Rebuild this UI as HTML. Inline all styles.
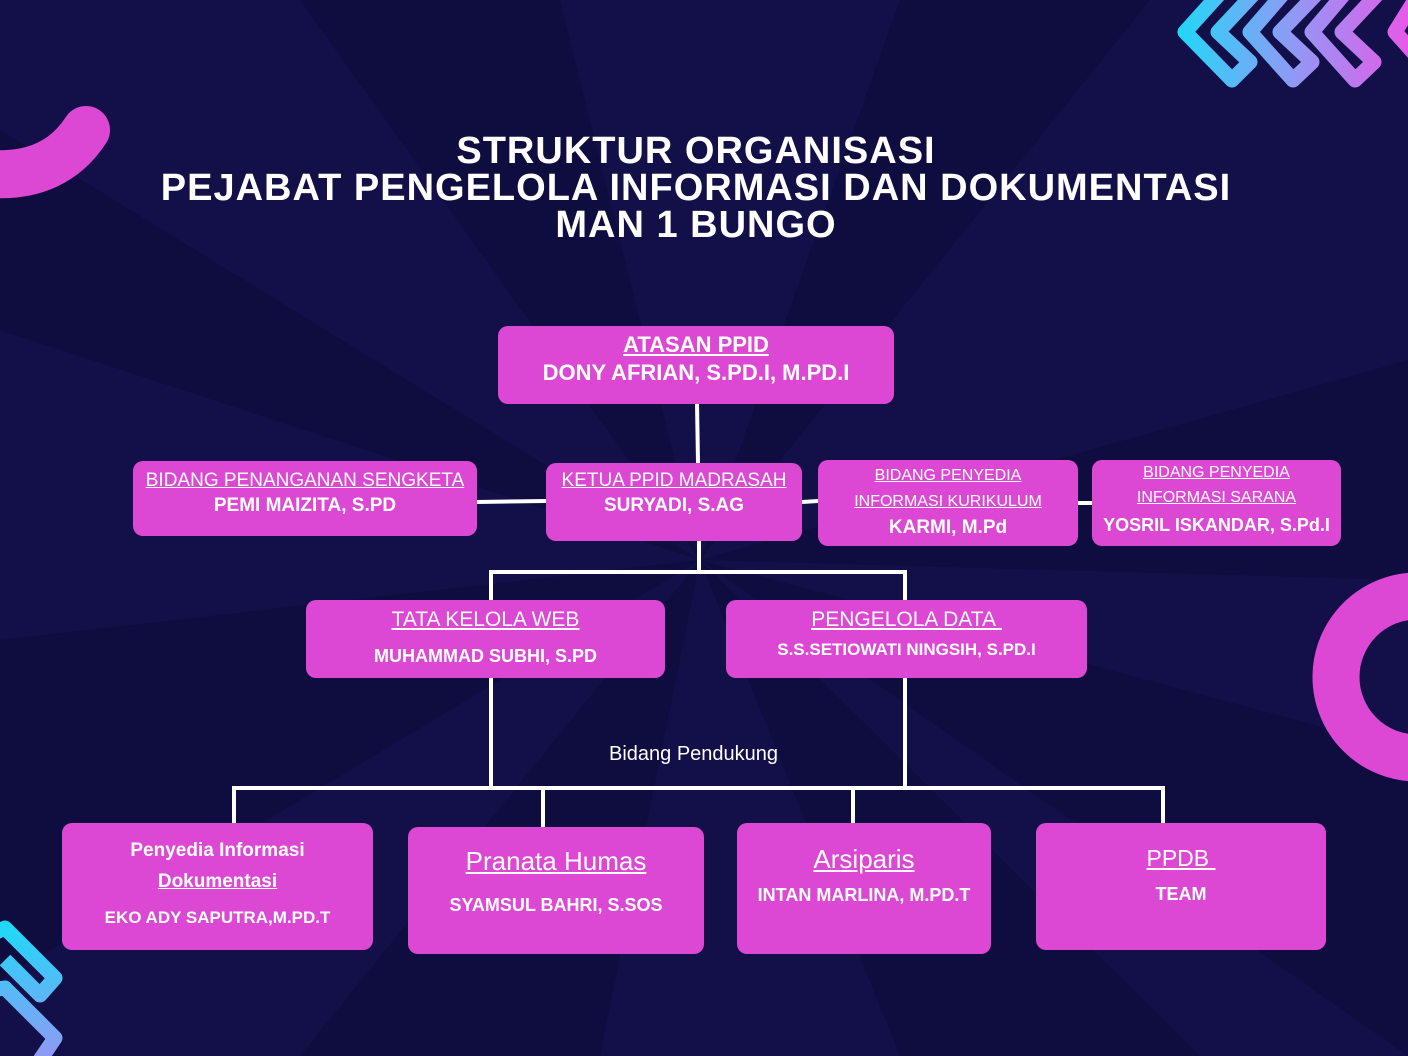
<!DOCTYPE html>
<html><head><meta charset="utf-8"><style>
html,body{margin:0;padding:0}
body{width:1408px;height:1056px;position:relative;overflow:hidden;background:#130f49;font-family:"Liberation Sans",sans-serif;color:#fff}
.b{position:absolute;background:#dc48d3;border-radius:10px;text-align:center;color:#fff}
.u{text-decoration:underline;font-weight:normal}
.n{font-weight:bold}
.t{position:absolute;left:0;width:1392px;text-align:center;font-weight:bold;font-size:38px;line-height:37px;top:133px;letter-spacing:1px}
svg{position:absolute;left:0;top:0}
</style></head><body>
<svg width="1408" height="1056">
<defs><linearGradient id="g" gradientUnits="userSpaceOnUse" x1="1175" y1="0" x2="1408" y2="0"><stop offset="0" stop-color="#1fd9f8"/><stop offset="0.5" stop-color="#8f9af5"/><stop offset="1" stop-color="#e65ae8"/></linearGradient>
<linearGradient id="g2" gradientUnits="userSpaceOnUse" x1="0" y1="925" x2="0" y2="1056"><stop offset="0" stop-color="#1fd9f8"/><stop offset="1" stop-color="#8f9af5"/></linearGradient></defs>
<g fill="#0f0c40">
<polygon points="700,560 0,130 0,330"/>
<polygon points="700,560 0,640 0,980"/>
<polygon points="700,560 1408,360 1408,580"/>
<polygon points="700,560 1408,750 1408,1056"/>
<polygon points="700,560 300,0 560,0"/>
<polygon points="700,560 900,0 1150,0"/>
<polygon points="700,560 300,1056 600,1056"/>
<polygon points="700,560 900,1056 1200,1056"/>
</g>
<path d="M-10 174 Q55 178 86 130" stroke="#dc48d3" stroke-width="48" fill="none" stroke-linecap="round"/>
<circle cx="1417" cy="677" r="81" stroke="#dc48d3" stroke-width="47" fill="none"/>
<g fill="none" stroke="url(#g)" stroke-width="15" stroke-linejoin="round">
<polyline points="1232,-20 1185,32 1232,80 1250,62 1218,32 1262,-15"/>
<polyline points="1295,-20 1250,32 1293,80 1312,62 1280,32 1325,-15"/>
<polyline points="1356,-20 1312,32 1355,80 1374,62 1342,32 1386,-15"/>
<polyline points="1418,-5 1395,32 1420,60"/>
</g>
<g fill="none" stroke="url(#g2)" stroke-width="15" stroke-linejoin="round">
<polyline points="-10,935 5,928 55,978 40,995 5,960"/>
<polyline points="-10,990 5,988 55,1038 40,1060"/>
</g>
<g stroke="#fff" stroke-width="4" fill="none">
<line x1="697" y1="403" x2="698" y2="463"/>
<line x1="477" y1="502" x2="546" y2="501"/>
<line x1="802" y1="502" x2="818" y2="501"/>
<line x1="1078" y1="503" x2="1092" y2="503"/>
<line x1="699" y1="540" x2="699" y2="572"/>
<polyline points="491,600 491,572 905,572 905,600"/>
<line x1="491" y1="677" x2="491" y2="788"/>
<line x1="905" y1="677" x2="905" y2="788"/>
<polyline points="234,823 234,788 1163,788 1163,823"/>
<line x1="543" y1="788" x2="543" y2="827"/>
<line x1="853" y1="788" x2="853" y2="823"/>
</g>
</svg>
<div class="t">STRUKTUR ORGANISASI<br>PEJABAT PENGELOLA INFORMASI DAN DOKUMENTASI<br>MAN 1 BUNGO</div>
<div class="b" style="left:498px;top:326px;width:396px;height:78px;font-size:22px;line-height:28px;padding-top:5px;box-sizing:border-box"><div class="n" style="text-decoration:underline">ATASAN PPID</div><div class="n">DONY AFRIAN, S.PD.I, M.PD.I</div></div>
<div class="b" style="left:133px;top:461px;width:344px;height:75px;font-size:19px;line-height:25px;padding-top:7px;box-sizing:border-box"><div class="u">BIDANG PENANGANAN SENGKETA</div><div class="n">PEMI MAIZITA, S.PD</div></div>
<div class="b" style="left:546px;top:463px;width:256px;height:78px;font-size:19px;line-height:25px;padding-top:5px;box-sizing:border-box"><div class="u">KETUA PPID MADRASAH</div><div class="n">SURYADI, S.AG</div></div>
<div class="b" style="left:818px;top:460px;width:260px;height:86px;font-size:16px;line-height:26px;padding-top:3px;box-sizing:border-box"><div class="u">BIDANG PENYEDIA</div><div class="u">INFORMASI KURIKULUM</div><div class="n" style="font-size:19px">KARMI, M.Pd</div></div>
<div class="b" style="left:1092px;top:460px;width:249px;height:86px;font-size:16px;line-height:25px;padding-top:0px;box-sizing:border-box"><div class="u">BIDANG PENYEDIA</div><div class="u">INFORMASI SARANA</div><div class="n" style="font-size:18px;line-height:30px">YOSRIL ISKANDAR, S.Pd.I</div></div>
<div class="b" style="left:306px;top:600px;width:359px;height:78px;font-size:21px;line-height:36px;padding-top:2px;box-sizing:border-box"><div class="u">TATA KELOLA WEB</div><div class="n" style="font-size:18px">MUHAMMAD SUBHI, S.PD</div></div>
<div class="b" style="left:726px;top:600px;width:361px;height:78px;font-size:21px;line-height:30px;padding-top:5px;box-sizing:border-box"><div class="u">PENGELOLA DATA&nbsp;</div><div class="n" style="font-size:17px">S.S.SETIOWATI NINGSIH, S.PD.I</div></div>
<div style="position:absolute;left:609px;top:743px;font-size:20px">Bidang Pendukung</div>
<div class="b" style="left:62px;top:823px;width:311px;height:127px;font-size:19px;line-height:31px;padding-top:12px;box-sizing:border-box"><div class="n">Penyedia Informasi</div><div class="n" style="text-decoration:underline">Dokumentasi</div><div class="n" style="font-size:17px;line-height:42px">EKO ADY SAPUTRA,M.PD.T</div></div>
<div class="b" style="left:408px;top:827px;width:296px;height:127px;font-size:26px;line-height:44px;padding-top:12px;box-sizing:border-box"><div class="u">Pranata Humas</div><div class="n" style="font-size:18px">SYAMSUL BAHRI, S.SOS</div></div>
<div class="b" style="left:737px;top:823px;width:254px;height:131px;font-size:26px;line-height:44px;padding-top:14px;box-sizing:border-box"><div class="u">Arsiparis</div><div class="n" style="font-size:18px;line-height:28px">INTAN MARLINA, M.PD.T</div></div>
<div class="b" style="left:1036px;top:823px;width:290px;height:127px;font-size:23px;line-height:36px;padding-top:17px;box-sizing:border-box"><div class="u">PPDB&nbsp;</div><div class="n" style="font-size:18px">TEAM</div></div>
</body></html>
